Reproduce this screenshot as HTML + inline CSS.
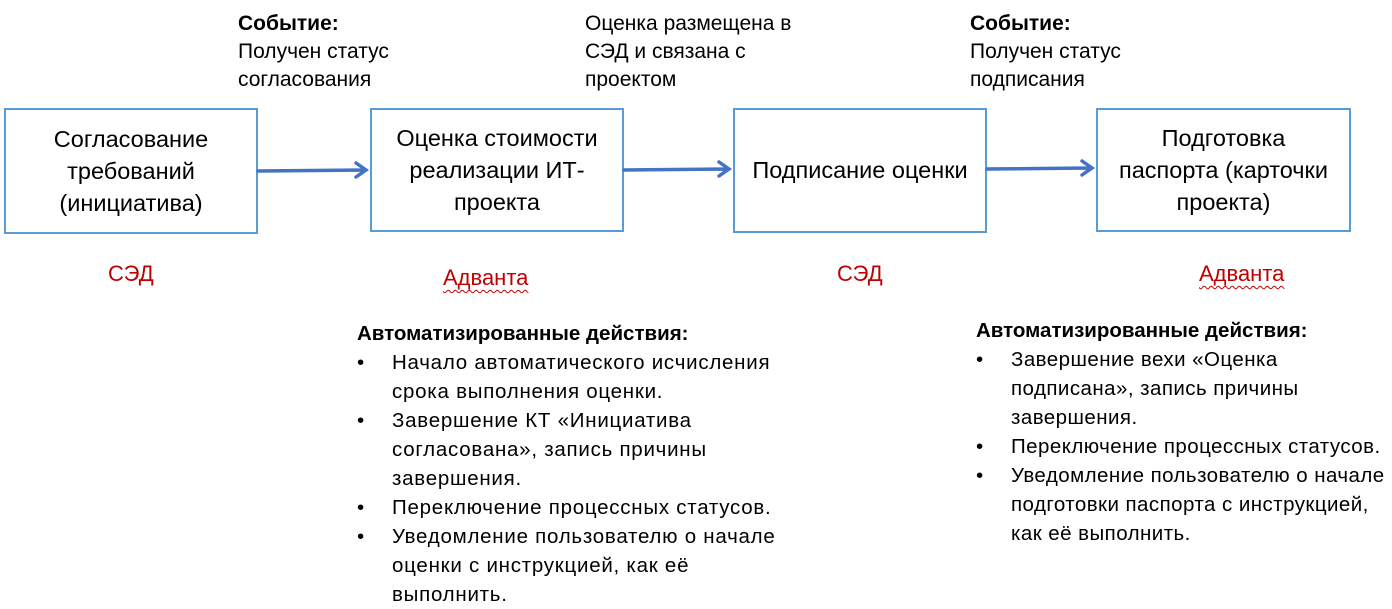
<!DOCTYPE html>
<html><head><meta charset="utf-8"><style>
body{margin:0;width:1392px;height:599px;background:#fff;position:relative;overflow:hidden;font-family:"Liberation Sans",sans-serif;color:#000}
.box{position:absolute;box-sizing:border-box;border:2px solid #5b9bd5;display:flex;align-items:center;justify-content:center;text-align:center;font-size:23.5px;line-height:32px;white-space:nowrap}
.t{position:absolute;font-size:21px;line-height:28px;white-space:nowrap}
.b{position:absolute;font-size:20.5px;line-height:29px;white-space:nowrap;letter-spacing:0.75px}
.r{position:absolute;color:#c00000;font-size:22px;white-space:nowrap}
.u{text-decoration:underline wavy #c00000;text-decoration-thickness:1px;text-underline-offset:4px}
ul{margin:0;padding:0;list-style:none}
li{position:relative;padding-left:35px}
li:before{content:"•";position:absolute;left:0}
</style></head><body>
<div class="box" style="left:4px;top:108px;width:254px;height:126px">Согласование<br>требований<br>(инициатива)</div>
<div class="box" style="left:370px;top:108px;width:254px;height:124px">Оценка стоимости<br>реализации ИТ-<br>проекта</div>
<div class="box" style="left:733px;top:108px;width:254px;height:125px;padding-bottom:2px">Подписание оценки</div>
<div class="box" style="left:1096px;top:108px;width:255px;height:124px">Подготовка<br>паспорта (карточки<br>проекта)</div>
<svg style="position:absolute;left:0;top:0" width="1392" height="599">
<g stroke="#4472c4" stroke-width="3.5" fill="none" stroke-linecap="round">
<path d="M258 171 L366 170 M356 163 L366 170 L356 177"/>
<path d="M624 170 L729 169 M719 162 L729 169 L719 176"/>
<path d="M987 169 L1092 168 M1082 161 L1092 168 L1082 175"/>
</g></svg>
<div class="t" style="left:238px;top:10px"><b>Событие:</b><br>Получен статус<br>согласования</div>
<div class="t" style="left:585px;top:10px">Оценка размещена в<br>СЭД и связана с<br>проектом</div>
<div class="t" style="left:970px;top:10px"><b>Событие:</b><br>Получен статус<br>подписания</div>
<div class="r" style="left:108px;top:261px">СЭД</div>
<div class="r" style="left:443px;top:265px"><span class="u">Адванта</span></div>
<div class="r" style="left:837px;top:261px">СЭД</div>
<div class="r" style="left:1199px;top:261px"><span class="u">Адванта</span></div>
<div class="b" style="left:357px;top:319px"><b style="letter-spacing:0">Автоматизированные действия:</b>
<ul><li>Начало автоматического исчисления<br>срока выполнения оценки.</li>
<li>Завершение КТ «Инициатива<br>согласована», запись причины<br>завершения.</li>
<li>Переключение процессных статусов.</li>
<li>Уведомление пользователю о начале<br>оценки с инструкцией, как её<br>выполнить.</li></ul></div>
<div class="b" style="left:976px;top:316px;letter-spacing:0.45px"><b style="letter-spacing:0">Автоматизированные действия:</b>
<ul><li>Завершение вехи «Оценка<br>подписана», запись причины<br>завершения.</li>
<li>Переключение процессных статусов.</li>
<li>Уведомление пользователю о начале<br>подготовки паспорта с инструкцией,<br>как её выполнить.</li></ul></div>
</body></html>
